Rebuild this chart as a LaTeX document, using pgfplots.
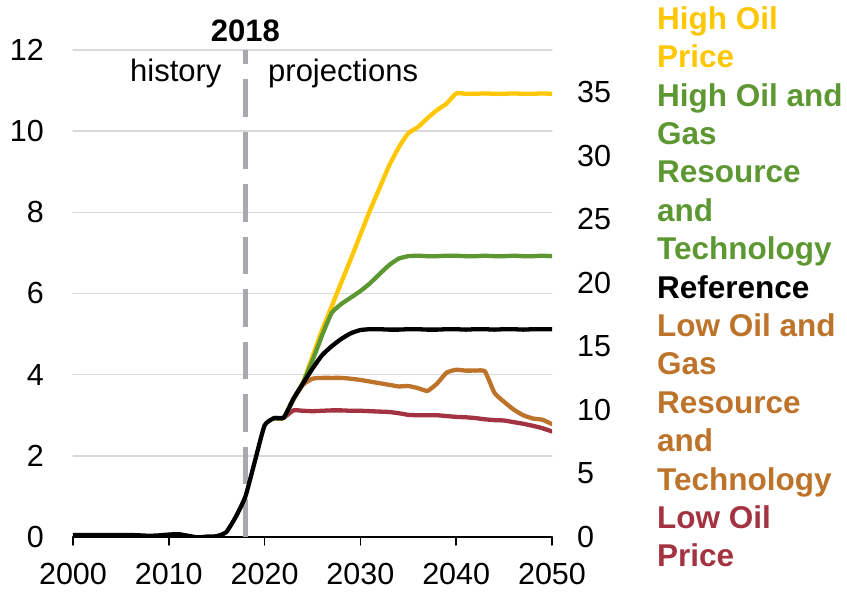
\documentclass[border=0pt]{standalone}
\usepackage{fontspec}
\setmainfont{Liberation Sans}
\usepackage{pgfplots}
\pgfplotsset{compat=1.18}
\definecolor{cyel}{HTML}{FFC702}
\definecolor{cgrn}{HTML}{5D9732}
\definecolor{cbrn}{HTML}{BD732A}
\definecolor{cred}{HTML}{A33340}
\definecolor{cdash}{HTML}{A7A9AC}
\definecolor{cgrid}{HTML}{D9D9D9}

\pgfplotstableread{
x y
2000 0.05
2001 0.05
2002 0.05
2003 0.05
2004 0.05
2005 0.05
2006 0.05
2007 0.04
2008 0.03
2009 0.04
2010 0.06
2011 0.07
2012 0.03
2013 -0.01
2014 0.01
2015 0.02
2016 0.12
2017 0.50
2018 1.00
2019 1.88
2020 2.75
2021 2.93
2022 2.94
2023 3.40
2024 3.78
2025 4.15
2026 4.48
2027 4.70
2028 4.88
2029 5.02
2030 5.10
2031 5.12
2032 5.12
2033 5.11
2034 5.11
2035 5.12
2036 5.12
2037 5.11
2038 5.11
2039 5.12
2040 5.12
2041 5.11
2042 5.12
2043 5.12
2044 5.11
2045 5.12
2046 5.12
2047 5.11
2048 5.12
2049 5.12
2050 5.12
}\tref

\pgfplotstableread{
x y
2021 2.93
2022 2.94
2023 3.40
2024 3.80
2025 4.45
2026 5.10
2027 5.68
2028 6.27
2029 6.85
2030 7.45
2031 8.05
2032 8.60
2033 9.15
2034 9.60
2035 9.95
2036 10.10
2037 10.32
2038 10.52
2039 10.68
2040 10.93
2041 10.92
2042 10.92
2043 10.93
2044 10.92
2045 10.92
2046 10.93
2047 10.92
2048 10.92
2049 10.93
2050 10.92
}\thop

\pgfplotstableread{
x y
2021 2.93
2022 2.94
2023 3.40
2024 3.80
2025 4.35
2026 4.97
2027 5.52
2028 5.74
2029 5.90
2030 6.06
2031 6.25
2032 6.48
2033 6.70
2034 6.86
2035 6.92
2036 6.93
2037 6.92
2038 6.92
2039 6.93
2040 6.93
2041 6.92
2042 6.92
2043 6.93
2044 6.92
2045 6.92
2046 6.93
2047 6.92
2048 6.92
2049 6.93
2050 6.92
}\thogr

\pgfplotstableread{
x y
2021 2.93
2022 2.94
2023 3.38
2024 3.75
2025 3.90
2026 3.92
2027 3.92
2028 3.92
2029 3.90
2030 3.87
2031 3.83
2032 3.79
2033 3.75
2034 3.71
2035 3.72
2036 3.67
2037 3.60
2038 3.78
2039 4.05
2040 4.12
2041 4.10
2042 4.10
2043 4.08
2044 3.55
2045 3.33
2046 3.14
2047 3.00
2048 2.92
2049 2.89
2050 2.78
}\tlogr

\pgfplotstableread{
x y
2021 2.93
2022 2.94
2023 3.12
2024 3.11
2025 3.10
2026 3.11
2027 3.12
2028 3.12
2029 3.11
2030 3.11
2031 3.10
2032 3.09
2033 3.08
2034 3.05
2035 3.01
2036 3.00
2037 3.00
2038 3.00
2039 2.98
2040 2.96
2041 2.95
2042 2.93
2043 2.90
2044 2.88
2045 2.87
2046 2.83
2047 2.79
2048 2.74
2049 2.68
2050 2.60
}\tlop

\begin{document}
\begin{tikzpicture}[x=1pt,y=1pt,font=\fontsize{30.5}{36}\selectfont]
\useasboundingbox (-73,-55) rectangle (774,537);
\begin{axis}[
  at={(0,0)}, anchor=south west,
  scale only axis, width=479pt, height=487pt,
  xmin=2000, xmax=2050, ymin=0, ymax=12,
  axis x line*=bottom, axis y line*=left,
  x axis line style={black, line width=1.5pt, -},
  y axis line style={draw=none},
  xtick={2000,2010,2020,2030,2040,2050},
  xticklabels={2000,2010,2020,2030,2040,2050},
  ytick={0,2,4,6,8,10,12},
  ymajorgrids, grid style={cgrid, line width=1.4pt},
  tick align=outside, major tick length=8pt,
  xtick style={black, line width=1.5pt},
  ytick style={draw=none},
  /pgf/number format/assume math mode=true,
  tick label style={font=\fontsize{30.5}{36}\selectfont},
  xticklabel style={anchor=north, inner sep=0pt, yshift=-18pt},
  yticklabel style={anchor=east, inner sep=0pt, xshift=-21pt},
  line join=round, line cap=round,
]
\addplot[cdash, line width=4.5pt, line cap=butt, dash pattern=on 37.5pt off 15pt] coordinates {(2018,0) (2018,12)};
\addplot[cred, line width=4.3pt, smooth, tension=0.3] table {\tlop};
\addplot[cbrn, line width=4.3pt, smooth, tension=0.3] table {\tlogr};
\addplot[cyel, line width=4.3pt, smooth, tension=0.3] table {\thop};
\addplot[cgrn, line width=4.3pt, smooth, tension=0.3] table {\thogr};
\addplot[black, line width=4.3pt, smooth, tension=0.3] table {\tref};
\end{axis}
\begin{axis}[
  at={(0,0)}, anchor=south west,
  scale only axis, width=479pt, height=487pt,
  xmin=2000, xmax=2050, ymin=0, ymax=38.3,
  axis x line=none, axis y line*=right,
  y axis line style={draw=none},
  ytick={0,5,10,15,20,25,30,35},
  ytick style={draw=none},
  /pgf/number format/assume math mode=true,
  tick label style={font=\fontsize{30.5}{36}\selectfont},
  yticklabel style={anchor=west, inner sep=0pt, xshift=25pt},
]
\addplot[draw=none] coordinates {(2000,0) (2050,1)};
\end{axis}
\node[anchor=base, font=\bfseries\fontsize{31}{37}\selectfont, inner sep=0pt] at (172.4,495.3) {2018};
\node[anchor=base east, inner sep=0pt, font=\fontsize{31}{37}\selectfont] at (148.7,455.3) {history};
\node[anchor=base west, inner sep=0pt, font=\fontsize{31}{37}\selectfont] at (195,455.3) {projections};
\foreach \t/\c [count=\i from 0] in {High Oil/cyel, Price/cyel, High Oil and/cgrn, Gas/cgrn, Resource/cgrn, and/cgrn, Technology/cgrn, Reference/black, Low Oil and/cbrn, Gas/cbrn, Resource/cbrn, and/cbrn, Technology/cbrn, Low Oil/cred, Price/cred}
  \node[anchor=base west, inner sep=0pt, text=\c, font=\bfseries\fontsize{31.5}{37}\selectfont] at (584, 507.7-38.4*\i) {\t};
\end{tikzpicture}
\end{document}
